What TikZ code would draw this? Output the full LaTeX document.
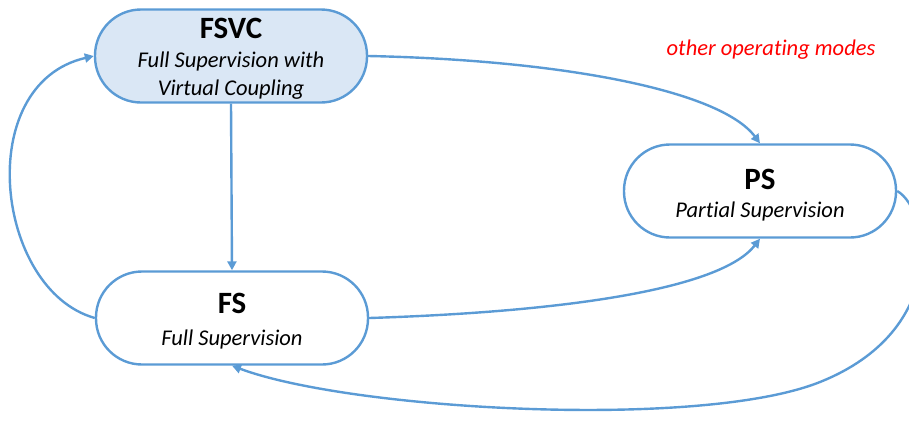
\documentclass[tikz,border=0pt]{standalone}
\usepackage{fontspec}
\setmainfont[Ligatures=NoCommon]{Carlito}
\usetikzlibrary{arrows.meta}
\definecolor{edgeblue}{HTML}{5B9BD5}
\definecolor{fillblue}{HTML}{DAE7F5}
\tikzset{
  mode/.style={draw=edgeblue, line width=2.4pt, rounded corners=46pt,
    minimum width=272pt, minimum height=93pt, align=center, inner sep=0pt},
  conn/.style={draw=edgeblue, line width=2.4pt,
    -{Triangle[width=9pt,length=9pt]}},
  ttl/.style={anchor=base, inner sep=0pt, font=\fontsize{31}{34}\selectfont\bfseries},
  sub/.style={anchor=base, inner sep=0pt, font=\fontsize{22.5}{28}\selectfont\itshape},
}
\begin{document}
\begin{tikzpicture}[x=1pt,y=-1pt]
\useasboundingbox (0,0) rectangle (909,421);
\node[mode, fill=fillblue] (fsvc) at (231,56) {};
\node[ttl] (fsvct) at (231,38) {FSVC};
\node[sub] (fsvcs1) at (231,67) {Full Supervision with};
\node[sub] (fsvcs2) at (231,95) {Virtual Coupling};
\node[mode, fill=white] (ps) at (760,191) {};
\node[ttl] (pst) at (760,189) {PS};
\node[sub] (pss) at (760,217) {Partial Supervision};
\node[mode, fill=white] (fs) at (232,318) {};
\node[ttl] (fst) at (232,313) {FS};
\node[sub] (fss) at (232,345) {Full Supervision};
\node[sub, text=red] (other) at (771,55) {other operating modes};
\draw[conn] (fsvc.south) -- (fs.north);
\draw[conn] (fsvc.east) .. controls (560,60) and (720,90) .. (ps.north);
\draw[conn] (fs.west) .. controls (-5,290) and (-28,84) .. (fsvc.west);
\draw[conn] (fs.east) .. controls (560,312) and (720,290) .. (ps.south);
\draw[conn] (ps.east) .. controls (930,210) and (950,330) .. (820,382)
  .. controls (700,430) and (350,410) .. (fs.south);
\end{tikzpicture}
\end{document}
